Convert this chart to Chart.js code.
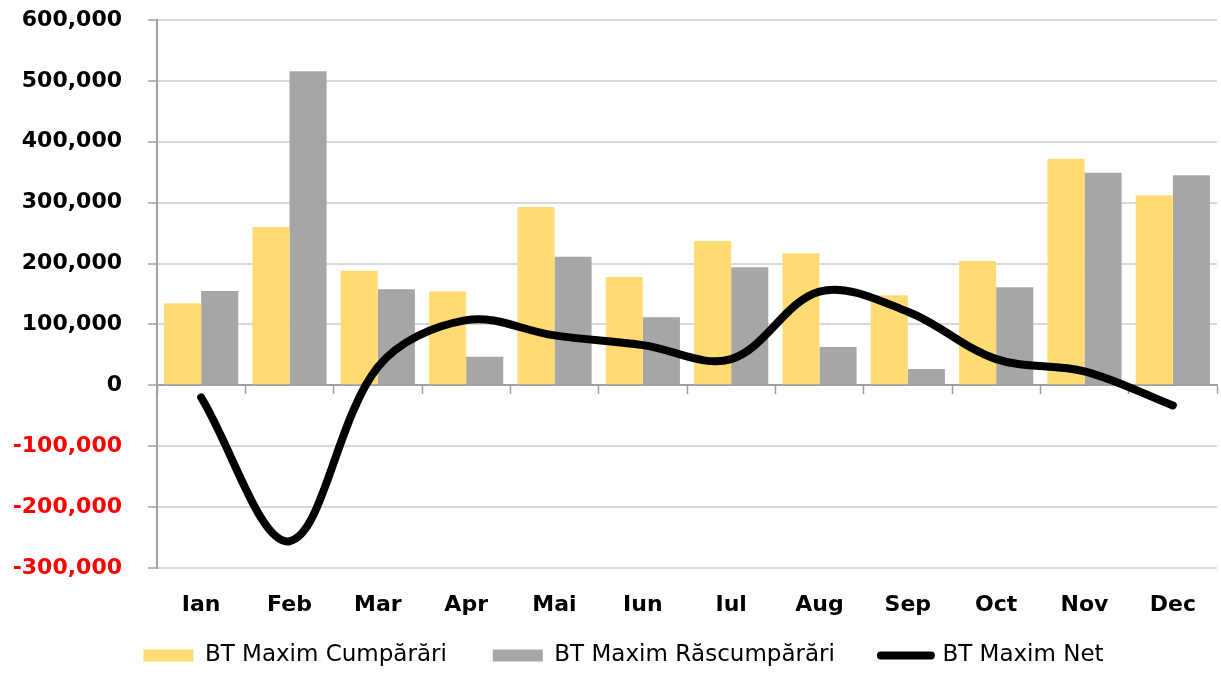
<!DOCTYPE html>
<html>
<head>
<meta charset="utf-8">
<script src="https://cdn.jsdelivr.net/npm/chart.js@4/dist/chart.umd.min.js"></script>
<style>
  html, body { margin: 0; padding: 0; background: #ffffff; }
  #wrap { width: 1221px; height: 674px; }
</style>
</head>
<body>
<div id="wrap"><canvas id="c" width="1221" height="674"></canvas></div>
<script>
const categories = ['Ian', 'Feb', 'Mar', 'Apr', 'Mai', 'Iun', 'Iul', 'Aug', 'Sep', 'Oct', 'Nov', 'Dec'];
const cumparari = [135000, 260000, 188000, 154000, 293000, 178000, 237000, 217000, 148000, 204000, 372000, 312000];
const rascumparari = [155000, 516000, 158000, 47000, 211000, 112000, 194000, 63000, 27000, 161000, 349000, 345000];
const net = [-20000, -256000, 30000, 107000, 82000, 66000, 43000, 154000, 121000, 43000, 23000, -33000];
const seriesNames = ['BT Maxim Cumpărări', 'BT Maxim Răscumpărări', 'BT Maxim Net'];
const yMin = -300000, yMax = 600000, yStep = 100000;

const AXIS = '#a0a0a0';
const GRID = '#d9d9d9';
const FONT = 'DejaVu Sans';

// let axis labels extend into neighbouring layout space without being clipped
const widenLabelAreas = {
  id: 'widenLabelAreas',
  afterLayout(chart) {
    chart.scales.y.left = 0;
    chart.scales.x.bottom = chart.height;
  }
};

new Chart(document.getElementById('c'), {
  type: 'bar',
  plugins: [widenLabelAreas],
  data: {
    labels: categories,
    datasets: [
      { label: seriesNames[0], data: cumparari, backgroundColor: '#ffdc73', borderWidth: 0,
        categoryPercentage: 0.84, barPercentage: 1.0, order: 1 },
      { label: seriesNames[1], data: rascumparari, backgroundColor: '#a6a6a6', borderWidth: 0,
        categoryPercentage: 0.84, barPercentage: 1.0, order: 1 },
      { type: 'line', label: seriesNames[2], data: net, borderColor: '#000000', backgroundColor: '#000000',
        borderWidth: 8, pointRadius: 0, pointHoverRadius: 0, tension: 0.35, fill: false,
        borderCapStyle: 'round', borderJoinStyle: 'round', order: 0 }
    ]
  },
  options: {
    responsive: false,
    animation: false,
    events: [],
    layout: { padding: { top: 20, left: 30, right: 4, bottom: -3 } },
    plugins: {
      tooltip: { enabled: false },
      legend: {
        position: 'bottom',
        labels: {
          usePointStyle: true,
          pointStyleWidth: 50,
          boxHeight: 12,
          padding: 46,
          color: '#000000',
          font: { family: FONT, size: 23 },
          generateLabels: (chart) => chart.data.datasets.map((ds, i) => {
            const isLine = ds.type === 'line';
            return {
              text: ds.label,
              datasetIndex: i,
              fillStyle: isLine ? '#000000' : ds.backgroundColor,
              strokeStyle: isLine ? '#000000' : ds.backgroundColor,
              lineWidth: isLine ? 8 : 0,
              lineCap: 'round',
              pointStyle: isLine ? 'line' : 'rect',
              fontColor: '#000000',
              hidden: false
            };
          })
        }
      }
    },
    scales: {
      x: {
        type: 'category',
        position: 'bottom',
        offset: true,
        grid: { display: false, drawTicks: false, offset: true },
        border: { display: false },
        ticks: { color: '#000000', font: { family: FONT, size: 22, weight: 'bold' },
                 padding: 24, autoSkip: false, maxRotation: 0 },
        afterFit: (s) => { s.height = 30; s.paddingLeft = 0; s.paddingRight = 0; }
      },
      x2: {
        type: 'category',
        position: { y: 0 },
        offset: true,
        grid: { drawOnChartArea: false, drawTicks: true, tickLength: 8, tickColor: AXIS, tickWidth: 1.5, offset: true },
        border: { display: true, color: AXIS, width: 2 },
        ticks: { display: false }
      },
      y: {
        min: yMin,
        max: yMax,
        grid: {
          color: (ctx) => (ctx.tick && ctx.tick.value === 0) ? AXIS : GRID,
          lineWidth: 2,
          drawTicks: true,
          tickLength: 9,
          tickColor: AXIS,
          tickWidth: 1.5
        },
        border: { display: true, color: AXIS, width: 2 },
        ticks: {
          stepSize: yStep,
          padding: 26,
          font: { family: FONT, size: 22, weight: 'bold' },
          color: (ctx) => (ctx.tick && ctx.tick.value < 0) ? '#ff0000' : '#000000',
          callback: (v) => Number(v).toLocaleString('en-US')
        },
        afterFit: (s) => { s.width = 127; s.paddingTop = 0; s.paddingBottom = 0; }
      }
    }
  }
});
</script>
</body>
</html>
